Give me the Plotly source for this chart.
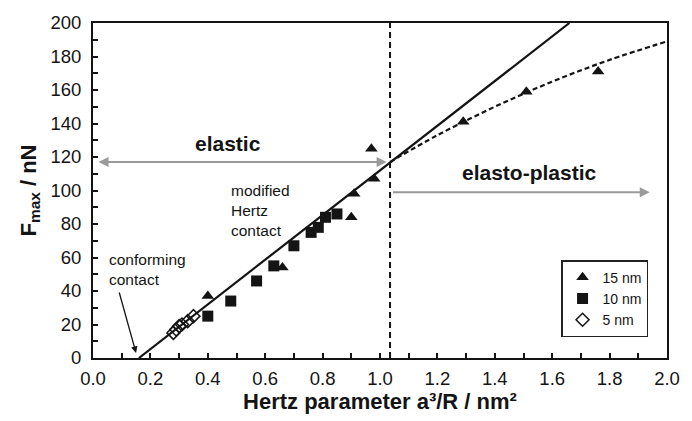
import plotly.graph_objects as go

# 15 nm (filled triangles)
x15 = [0.40, 0.66, 0.90, 0.91, 0.97, 0.98, 1.29, 1.51, 1.76]
y15 = [37, 54, 84, 98, 125, 107, 141, 159, 171]
# 10 nm (filled squares)
x10 = [0.40, 0.48, 0.57, 0.63, 0.70, 0.76, 0.785, 0.81, 0.85]
y10 = [25, 34, 46, 55, 67, 75, 78, 84, 86]
# 5 nm (open diamonds)
x5 = [0.28, 0.29, 0.30, 0.31, 0.33, 0.35]
y5 = [15, 17, 19, 20, 22, 25]

# modified Hertz fit (elastic)
fit_x = [0.16, 1.66]
fit_y = [0, 200]
# elasto-plastic trend
plast_x = [1.035, 1.2, 1.4, 1.6, 1.8, 2.0]
plast_y = [117, 133, 150, 165, 178, 189]
x_yield = 1.035

FONT = "Liberation Sans, Arial, sans-serif"
INK = "#141414"

fig = go.Figure()
fig.add_trace(go.Scatter(x=fit_x, y=fit_y, mode="lines",
                         line=dict(color=INK, width=2.2), showlegend=False, hoverinfo="skip"))
fig.add_trace(go.Scatter(x=plast_x, y=plast_y, mode="lines",
                         line=dict(color=INK, width=2.2, dash="5px,3px", shape="spline"),
                         showlegend=False, hoverinfo="skip"))
fig.add_trace(go.Scatter(x=x15, y=y15, mode="markers", name="15 nm",
                         marker=dict(symbol="triangle-up", size=11, color=INK)))
fig.add_trace(go.Scatter(x=x10, y=y10, mode="markers", name="10 nm",
                         marker=dict(symbol="square", size=11, color=INK)))
fig.add_trace(go.Scatter(x=x5, y=y5, mode="markers", name="5 nm",
                         marker=dict(symbol="diamond-open", size=10, color=INK,
                                     line=dict(width=1.5, color=INK))))

fig.add_shape(type="line", x0=x_yield, x1=x_yield, y0=0, y1=200, xref="x", yref="y",
              line=dict(color=INK, width=2, dash="6px,4px"))

anns = []
anns.append(dict(x=1.023, y=117, ax=0.014, ay=117, xref="x", yref="y", axref="x", ayref="y",
                 showarrow=True, arrowhead=2, arrowside="end+start", arrowsize=1,
                 arrowwidth=2, arrowcolor="#9a9a9a", text=""))
anns.append(dict(x=1.94, y=99, ax=1.04, ay=99, xref="x", yref="y", axref="x", ayref="y",
                 showarrow=True, arrowhead=2, arrowsize=1, arrowwidth=2,
                 arrowcolor="#9a9a9a", text=""))
anns.append(dict(x=0.15, y=3, ax=0.09, ay=40, xref="x", yref="y", axref="x", ayref="y",
                 showarrow=True, arrowhead=2, arrowsize=1, arrowwidth=1.3,
                 arrowcolor=INK, text=""))
anns.append(dict(x=0.47, y=128, xref="x", yref="y", text="<b>elastic</b>", showarrow=False,
                 font=dict(size=21, color=INK, family=FONT)))
anns.append(dict(x=1.52, y=111, xref="x", yref="y", text="<b>elasto-plastic</b>", showarrow=False,
                 font=dict(size=21, color=INK, family=FONT)))
anns.append(dict(x=0.475, y=88, xref="x", yref="y", text="modified<br>Hertz<br>contact",
                 showarrow=False, align="left", xanchor="left",
                 font=dict(size=15.5, color=INK, family=FONT)))
anns.append(dict(x=0.05, y=53, xref="x", yref="y", text="conforming<br>contact",
                 showarrow=False, align="left", xanchor="left",
                 font=dict(size=15.5, color=INK, family=FONT)))

fig.update_layout(
    width=692, height=421,
    margin=dict(l=93, r=15, t=19, b=63),
    paper_bgcolor="white", plot_bgcolor="white",
    font=dict(family=FONT, size=18, color=INK),
    annotations=anns,
    legend=dict(x=0.967, y=0.062, xanchor="right", yanchor="bottom",
                bordercolor="#222", borderwidth=1.5, bgcolor="white",
                font=dict(size=14, family=FONT, color=INK), itemwidth=30, tracegroupgap=0,
                itemsizing="trace"),
)
fig.update_xaxes(range=[0, 2.0], dtick=0.2, tickformat=".1f",
                 showgrid=False, zeroline=False, showline=True, linecolor=INK,
                 linewidth=2, mirror=True, ticks="inside", ticklen=5, tickwidth=1.5,
                 tickcolor=INK, ticklabelstandoff=3,
                 minor=dict(ticks="inside", dtick=0.1, ticklen=5, tickwidth=1.5,
                            tickcolor=INK),
                 tickfont=dict(size=18.5),
                 title=dict(text="<b>Hertz parameter a³/R / nm²</b>", font=dict(size=22),
                            standoff=2))
fig.update_yaxes(range=[0, 200], dtick=20,
                 showgrid=False, zeroline=False, showline=True, linecolor=INK,
                 linewidth=2, mirror=True, ticks="inside", ticklen=5, tickwidth=1.5,
                 tickcolor=INK, ticklabelstandoff=6,
                 minor=dict(ticks="inside", dtick=10, ticklen=5, tickwidth=1.5,
                            tickcolor=INK),
                 tickfont=dict(size=18.5),
                 title=dict(text="<b>F<sub>max</sub> / nN</b>", font=dict(size=22),
                            standoff=8))

fig.write_html("out.html")
